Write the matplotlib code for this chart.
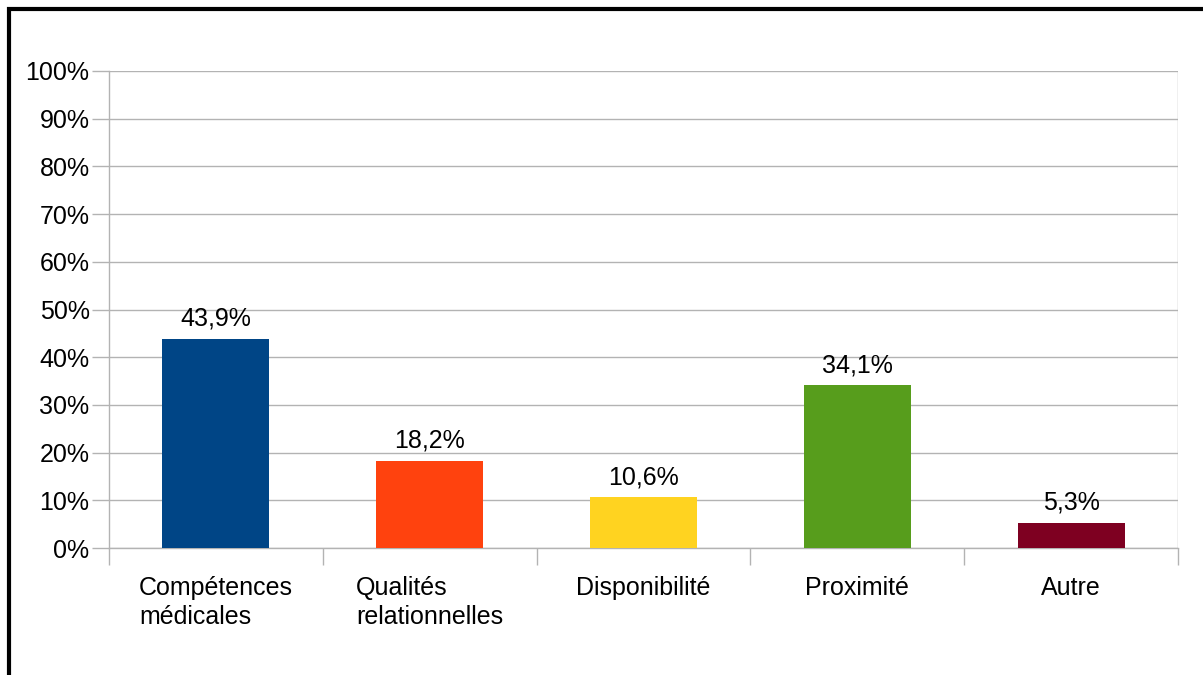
import matplotlib
matplotlib.use("Agg")
import matplotlib.pyplot as plt
from matplotlib.patches import Rectangle
from matplotlib.ticker import FuncFormatter, MultipleLocator

categories = ["Compétences\nmédicales", "Qualités\nrelationnelles", "Disponibilité", "Proximité", "Autre"]
values = [43.9, 18.2, 10.6, 34.1, 5.3]
colors = ["#004586", "#ff420e", "#ffd320", "#579d1c", "#7e0021"]

plt.rcParams['font.family'] = ['Liberation Sans', 'DejaVu Sans']
FS = 18

W, H = 1203, 675
fig = plt.figure(figsize=(W/100, H/100), dpi=100)
fig.patch.set_facecolor("white")

# outer border (left/top visible, right/bottom cut off)
fig.add_artist(Rectangle((9/W, -0.1), 1.2, (H - 9)/H + 0.1, transform=fig.transFigure,
                         fill=False, edgecolor="black", linewidth=3))

left, right, top, bottom = 109, 1178, 71, 548
ax = fig.add_axes([left/W, 1 - bottom/H, (right-left)/W, (bottom-top)/H])

x = list(range(len(categories)))
ax.bar(x, values, width=0.5, color=colors, zorder=3)
ax.set_xlim(-0.5, len(categories) - 0.5)
ax.set_ylim(0, 100)
ax.yaxis.set_major_locator(MultipleLocator(10))
ax.yaxis.set_major_formatter(FuncFormatter(lambda v, p: f"{int(v)}%"))
ax.grid(axis="y", color="#b3b3b3", linewidth=1, zorder=0)

for s in ["top", "right"]:
    ax.spines[s].set_visible(False)
for s in ["left", "bottom"]:
    ax.spines[s].set_color("#b3b3b3")
    ax.spines[s].set_linewidth(1)

ax.set_xticks(x)
ax.set_xticklabels(categories, fontsize=FS, linespacing=1.3, va="top",
                   ha="center", multialignment="left")
ax.tick_params(axis="x", length=0, pad=20)
# category boundary ticks
ax.set_xticks([i - 0.5 for i in range(len(categories) + 1)], minor=True)
ax.tick_params(axis="x", which="minor", length=12, color="#b3b3b3", width=1)
ax.tick_params(axis="y", length=12, color="#b3b3b3", width=1, labelsize=FS, pad=2)
# right edge line
ax.axvline(len(categories) - 0.5, color="#b3b3b3", linewidth=1, zorder=1)

for xi, v in zip(x, values):
    ax.annotate(f"{v:.1f}%".replace(".", ","), (xi, v), xytext=(0, 6),
                textcoords="offset points", ha="center", va="bottom", fontsize=FS)

fig.savefig("out.png", dpi=100)
